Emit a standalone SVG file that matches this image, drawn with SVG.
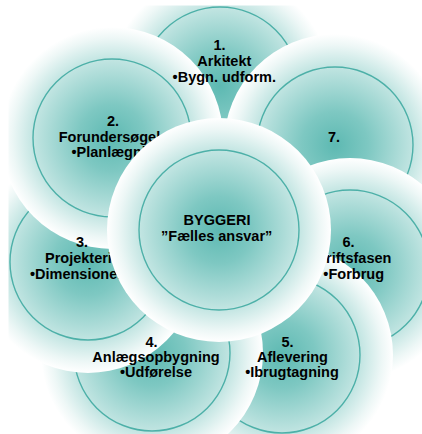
<svg xmlns="http://www.w3.org/2000/svg" width="422" height="434" viewBox="0 0 422 434">
  <style>
    .halo { fill: url(#disc); }
    .ring { fill: none; stroke: #4db0a8; stroke-width: 1.4; }
    text { font-family: "Liberation Sans", Arial, Helvetica, sans-serif; font-weight: bold; font-size: 14.5px; fill: #000000; text-anchor: middle; }
  </style>
  <defs>
    <!-- teal core fading out to a white rim -->
    <radialGradient id="disc" cx="50%" cy="50%" r="50%">
      <stop offset="0" stop-color="#5db9b2"/>
      <stop offset="0.3" stop-color="#7ec8c2"/>
      <stop offset="0.71" stop-color="#c2e5e2"/>
      <stop offset="0.9" stop-color="#edf7f6"/>
      <stop offset="1" stop-color="#ffffff"/>
    </radialGradient>
    <clipPath id="frame">
      <rect x="8.5" y="5.5" width="414" height="429"/>
    </clipPath>
  </defs>

  <rect x="0" y="0" width="422" height="434" fill="#ffffff"/>

  <g clip-path="url(#frame)">
    <!-- phase discs, stacked clockwise from the top -->
    <g id="node-1">
      <circle class="halo" cx="220" cy="86" r="111"/>
      <circle class="ring" cx="220" cy="86" r="79"/>
    </g>
    <g id="node-7">
      <circle class="halo" cx="335" cy="145" r="111"/>
      <circle class="ring" cx="335" cy="145" r="78"/>
    </g>
    <g id="node-6">
      <circle class="halo" cx="350" cy="269" r="111"/>
      <circle class="ring" cx="350" cy="269" r="79"/>
    </g>
    <g id="node-5">
      <circle class="halo" cx="282" cy="355" r="111"/>
      <circle class="ring" cx="282" cy="355" r="78"/>
    </g>
    <g id="node-4">
      <circle class="halo" cx="152" cy="353" r="111"/>
      <circle class="ring" cx="152" cy="353" r="78"/>
    </g>
    <g id="node-3">
      <circle class="halo" cx="88" cy="262" r="111"/>
      <circle class="ring" cx="88" cy="262" r="78"/>
    </g>
    <g id="node-2">
      <circle class="halo" cx="112" cy="138" r="111"/>
      <circle class="ring" cx="112" cy="138" r="79"/>
    </g>

    <!-- phase labels sit above all outer discs -->
    <g id="labels">
      <g id="label-1">
        <text x="219.5" y="50">1.</text>
        <text x="224.3" y="66">Arkitekt</text>
        <text x="224.3" y="82">•Bygn. udform.</text>
      </g>
      <g id="label-2">
        <text x="113" y="126">2.</text>
        <text x="117.5" y="141.5">Forundersøgelse</text>
        <text x="117.5" y="157">•Planlægning</text>
      </g>
      <g id="label-3">
        <text x="82" y="247">3.</text>
        <text x="87.3" y="263">Projektering</text>
        <text x="87.3" y="279">•Dimensionering</text>
      </g>
      <g id="label-4">
        <text x="151.5" y="347">4.</text>
        <text x="156" y="362">Anlægsopbygning</text>
        <text x="156" y="377">•Udførelse</text>
      </g>
      <g id="label-5">
        <text x="287.5" y="347">5.</text>
        <text x="292.5" y="362">Aflevering</text>
        <text x="292" y="377">•Ibrugtagning</text>
      </g>
      <g id="label-6">
        <text x="348.5" y="247">6.</text>
        <text x="353.5" y="263">Driftsfasen</text>
        <text x="353.7" y="279">•Forbrug</text>
      </g>
      <g id="label-7">
        <text x="334" y="141.5">7.</text>
      </g>
    </g>

    <!-- shared hub on top -->
    <g id="node-center">
      <circle class="halo" cx="219" cy="230" r="112"/>
      <circle class="ring" cx="219" cy="230" r="80"/>
      <text x="217" y="225">BYGGERI</text>
      <text x="216.7" y="240.5">”Fælles ansvar”</text>
    </g>
  </g>
</svg>
